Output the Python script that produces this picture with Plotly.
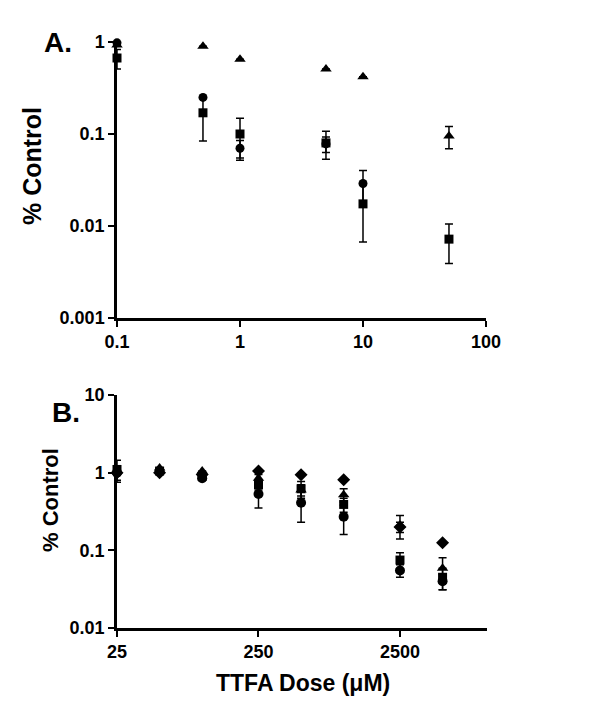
import plotly.graph_objects as go

# ---------------- Panel A data ----------------
dose_A = [0.1, 0.5, 1, 5, 10, 50]
tri_A = [0.93, 0.90, 0.65, 0.51, 0.42, 0.095]
tri_A_err = [0, 0, 0, 0, 0, 0.026]
circ_A = [0.98, 0.25, 0.07, 0.078, 0.029, None]
circ_A_err = [0, 0, 0.015, 0.015, 0.011, 0]
sq_A = [0.67, 0.17, 0.10, 0.08, 0.0174, 0.0072]
sq_A_err = [0.16, 0.086, 0.048, 0.027, 0.0107, 0.0033]

# ---------------- Panel B data ----------------
dose_B = [25, 50, 100, 250, 500, 1000, 2500, 5000]
circ_B = [1.0, 1.05, 0.85, 0.53, 0.41, 0.27, 0.055, 0.040]
circ_B_err = [0.2, 0, 0, 0.18, 0.18, 0.11, 0.01, 0.009]
sq_B = [1.1, 1.05, 0.90, 0.70, 0.62, 0.39, 0.075, 0.045]
sq_B_err = [0.35, 0, 0, 0.10, 0.15, 0.08, 0.018, 0.014]
tri_B = [1.05, 1.15, 1.05, 0.85, 0.60, 0.52, 0.21, 0.059]
tri_B_err = [0, 0, 0, 0.10, 0.10, 0.10, 0.07, 0.021]
dia_B = [1.0, 1.0, 0.95, 1.05, 0.94, 0.81, 0.20, 0.125]
dia_B_err = [0, 0, 0, 0, 0, 0, 0.03, 0]

ytick_A = [0.001, 0.01, 0.1, 1]
ytext_A = ["0.001", "0.01", "0.1", "1"]
xtick_A = [0.1, 1, 10, 100]
xtext_A = ["0.1", "1", "10", "100"]
ytick_B = [0.01, 0.1, 1, 10]
ytext_B = ["0.01", "0.1", "1", "10"]
xtick_B = [25, 250, 2500]
xtext_B = ["25", "250", "2500"]

FONT = "Arial, 'Liberation Sans', sans-serif"
fig = go.Figure()


def add(x, y, err, symbol, size, xa, ya):
    fig.add_trace(go.Scatter(
        x=x, y=y, mode="markers", xaxis=xa, yaxis=ya,
        marker=dict(symbol=symbol, size=size, color="black"),
        error_y=dict(type="data", array=err, visible=True, color="black",
                     thickness=1.5, width=4),
        showlegend=False, cliponaxis=False))


add(dose_A, sq_A, sq_A_err, "square", 9, "x", "y")
add(dose_A, circ_A, circ_A_err, "circle", 9, "x", "y")
add(dose_A, tri_A, tri_A_err, "triangle-up", 10, "x", "y")

add(dose_B, dia_B, dia_B_err, "diamond", 10, "x2", "y2")
add(dose_B, circ_B, circ_B_err, "circle", 10, "x2", "y2")
add(dose_B, sq_B, sq_B_err, "square", 9, "x2", "y2")
add(dose_B, tri_B, tri_B_err, "triangle-up", 10, "x2", "y2")

axis_common = dict(type="log", showline=True, linecolor="black", linewidth=2.5,
                   ticks="outside", ticklen=6, tickwidth=2, tickcolor="black",
                   showgrid=False, zeroline=False, mirror=False, automargin=False,
                   tickfont=dict(family=FONT, size=18, color="black", weight="bold"))

fig.update_layout(
    width=600, height=720,
    margin=dict(l=0, r=0, t=0, b=0, pad=0),
    paper_bgcolor="white", plot_bgcolor="white",
    font=dict(family=FONT, color="black"),
    xaxis=dict(axis_common, domain=[117/600, 486/600], range=[-1, 2],
               tickvals=xtick_A, ticktext=xtext_A, anchor="y"),
    yaxis=dict(axis_common, domain=[1-318/720, 1-42/720], range=[-3, 0],
               tickvals=ytick_A, ticktext=ytext_A, anchor="x"),
    xaxis2=dict(axis_common, domain=[117/600, 487/600], range=[1.39794, 4.013],
                tickvals=xtick_B, ticktext=xtext_B, anchor="y2"),
    yaxis2=dict(axis_common, domain=[1-628/720, 1-395/720], range=[-2, 1],
                tickvals=ytick_B, ticktext=ytext_B, anchor="x2"),
)

ann = [
    dict(text="A.", x=58/600, y=1-42/720, size=28),
    dict(text="B.", x=66/600, y=1-412/720, size=28),
]
for a in ann:
    fig.add_annotation(text=a["text"], x=a["x"], y=a["y"], xref="paper", yref="paper",
                       showarrow=False, xanchor="center", yanchor="middle",
                       font=dict(family=FONT, size=a["size"], color="black", weight="bold"))

fig.add_annotation(text="% Control", x=32/600, y=1-166/720, xref="paper", yref="paper",
                   showarrow=False, textangle=-90, xanchor="center", yanchor="middle",
                   font=dict(family=FONT, size=25, color="black", weight="bold"))
fig.add_annotation(text="% Control", x=50/600, y=1-500/720, xref="paper", yref="paper",
                   showarrow=False, textangle=-90, xanchor="center", yanchor="middle",
                   font=dict(family=FONT, size=22, color="black", weight="bold"))
fig.add_annotation(text="TTFA Dose (μM)", x=303/600, y=1-683/720, xref="paper", yref="paper",
                   showarrow=False, xanchor="center", yanchor="middle",
                   font=dict(family=FONT, size=23, color="black", weight="bold"))

fig.write_html("out.html", config={"displayModeBar": False},
               post_script="document.body.style.margin='0';")
